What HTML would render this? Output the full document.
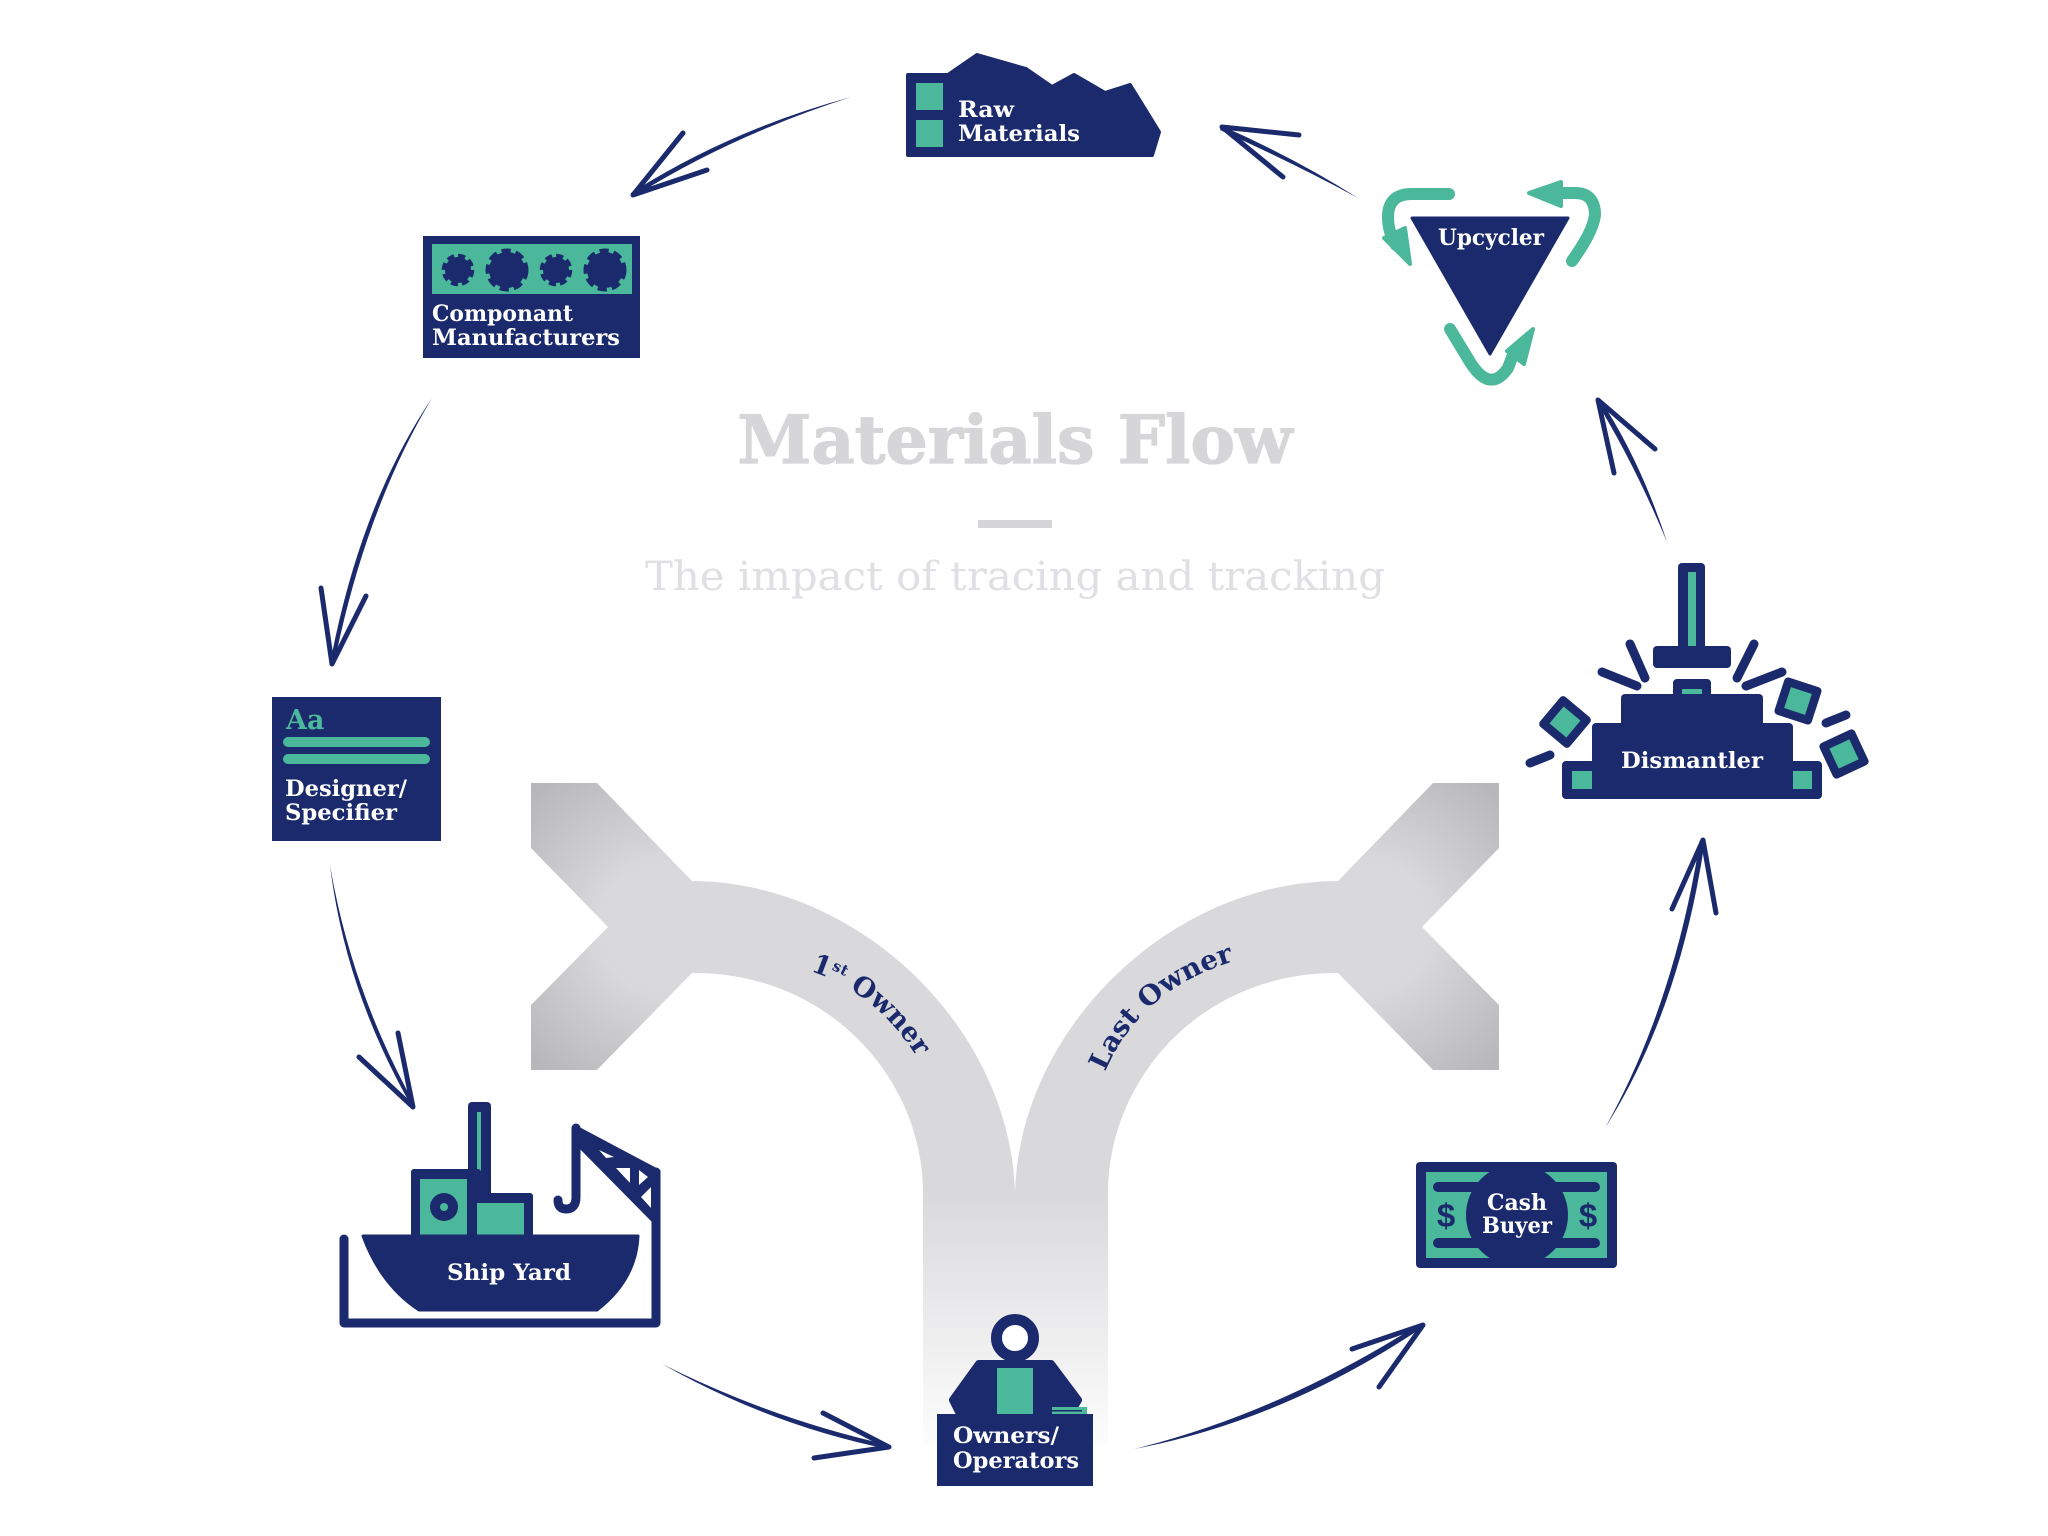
<!DOCTYPE html>
<html><head><meta charset="utf-8"><title>Materials Flow</title>
<style>
html,body{margin:0;padding:0;background:#fff;width:2048px;height:1536px;overflow:hidden}
svg{display:block}
.l{font-family:"DejaVu Serif","Liberation Serif",serif;font-weight:700;fill:#fff}
.a{fill:#1a2a6c}
.w{stroke:#1a2a6c;stroke-width:5;stroke-linecap:round;stroke-linejoin:round;fill:none}
.g{fill:#4bb79b}
.gs{stroke:#4bb79b;stroke-width:12;fill:none;stroke-linecap:round;stroke-linejoin:round}
.n{fill:#1a2a6c}
.ns{stroke:#1a2a6c;fill:none;stroke-linecap:round;stroke-linejoin:round}
</style></head><body>
<svg xmlns="http://www.w3.org/2000/svg" width="2048" height="1536" viewBox="0 0 2048 1536">
<defs>
<radialGradient id="rl" gradientUnits="userSpaceOnUse" cx="665" cy="927" r="185"><stop offset="0.35" stop-color="#d9d9dc"/><stop offset="1" stop-color="#b8b8ba"/></radialGradient>
<radialGradient id="rr" gradientUnits="userSpaceOnUse" cx="1366" cy="927" r="185"><stop offset="0.35" stop-color="#d9d9dc"/><stop offset="1" stop-color="#b8b8ba"/></radialGradient>
<linearGradient id="st" gradientUnits="userSpaceOnUse" x1="0" y1="1190" x2="0" y2="1445"><stop offset="0" stop-color="#d9d9dc"/><stop offset="1" stop-color="#fdfdfd"/></linearGradient>
<path id="p1" d="M810,971 Q878,993 920,1062"/>
<path id="p2" d="M1105,1072 Q1142,985 1245,958"/>
</defs>
<rect width="2048" height="1536" fill="#fff"/>

<!-- Y shape -->
<path fill="url(#rl)" d="M531,783 H597 L692,881 V973 L597,1070 H531 V1005 L608,927 L531,848 Z"/>
<path fill="url(#rr)" d="M1499,783 H1433 L1338,881 V973 L1433,1070 H1499 V1005 L1422,927 L1499,848 Z"/>
<path fill="#d9d9dc" d="M680,881 H691 C860,881 1012,1030 1015,1195 C1018,1030 1170,881 1339,881 H1350 V973 H1336 C1200,973 1108,1080 1108,1193 H923 C923,1080 830,973 694,973 H680 Z"/>
<rect x="923" y="1190" width="185" height="256" fill="url(#st)"/>

<text class="l" style="fill:#1a2a6c" font-size="27"><textPath href="#p1" textLength="140" lengthAdjust="spacingAndGlyphs">1<tspan font-size="15" dy="-9">st</tspan><tspan dy="9"> Owner</tspan></textPath></text>
<text class="l" style="fill:#1a2a6c" font-size="27"><textPath href="#p2" textLength="176" lengthAdjust="spacingAndGlyphs">Last Owner</textPath></text>

<!-- Title -->
<text x="1015" y="463" text-anchor="middle" font-family="DejaVu Serif,serif" font-weight="700" font-size="66" fill="#d6d6d9" stroke="#d6d6d9" stroke-width="1.2" textLength="555" lengthAdjust="spacingAndGlyphs">Materials Flow</text>
<rect x="978" y="520" width="74" height="8" fill="#d6d6d9"/>
<text x="1015" y="590" text-anchor="middle" font-family="DejaVu Serif,serif" font-size="40" fill="#e0e0e4" textLength="740" lengthAdjust="spacingAndGlyphs">The impact of tracing and tracking</text>

<!-- Raw Materials -->
<path class="n" stroke="#1a2a6c" stroke-width="4" stroke-linejoin="round" d="M908,75 H948 L977,55 L1026,69 L1052,87 L1074,75 L1105,93 L1130,85 L1159,132 L1152,155 H908 Z"/>
<rect class="g" x="916" y="83" width="27" height="27"/><rect class="g" x="916" y="120" width="27" height="27"/>
<text class="l" x="958" y="117" font-size="22" textLength="56" lengthAdjust="spacingAndGlyphs">Raw</text>
<text class="l" x="958" y="141" font-size="22" textLength="122" lengthAdjust="spacingAndGlyphs">Materials</text>

<!-- Upcycler -->
<path class="n" stroke="#1a2a6c" stroke-width="3" stroke-linejoin="round" d="M1412,218 H1568 L1490,354 Z"/>
<text class="l" x="1491" y="245" text-anchor="middle" font-size="22" textLength="106" lengthAdjust="spacingAndGlyphs">Upcycler</text>
<path class="gs" d="M1449,194 H1412 Q1388,194 1388,217 Q1388,232 1396,245"/>
<path class="g" stroke="#4bb79b" stroke-width="4" stroke-linejoin="round" d="M1410,264 L1384,238 L1405,228 Z"/>
<path class="gs" d="M1562,193 H1575 Q1595,193 1595,215 Q1593,232 1572,261"/>
<path class="g" stroke="#4bb79b" stroke-width="4" stroke-linejoin="round" d="M1529,193 L1561,182 L1561,206 Z"/>
<path class="gs" d="M1450,329 L1470,362 Q1490,394 1508,368 L1514,352"/>
<path class="g" stroke="#4bb79b" stroke-width="4" stroke-linejoin="round" d="M1533,329 L1507,351 L1524,364 Z"/>

<!-- Dismantler -->
<rect class="n" x="1678" y="563" width="27" height="90" rx="4"/><rect class="g" x="1688" y="572" width="8" height="74"/>
<rect class="n" x="1653" y="646" width="78" height="22" rx="4"/>
<rect class="n" x="1673" y="679" width="38" height="20" rx="4"/><rect class="g" x="1682" y="689" width="20" height="5"/>
<rect class="n" x="1621" y="694" width="142" height="40" rx="4"/>
<rect class="n" x="1592" y="723" width="201" height="45" rx="4"/>
<rect class="n" x="1562" y="761" width="260" height="38" rx="4"/>
<rect class="g" x="1572" y="771" width="20" height="18"/><rect class="g" x="1793" y="771" width="19" height="18"/>
<text class="l" x="1692" y="768" text-anchor="middle" font-size="22" textLength="142" lengthAdjust="spacingAndGlyphs">Dismantler</text>
<g class="ns" stroke-width="9">
<path d="M1630,644 L1645,678"/><path d="M1602,672 L1637,686"/><path d="M1754,644 L1737,678"/><path d="M1782,672 L1746,686"/><path d="M1846,715 L1826,723"/><path d="M1530,763 L1550,755"/>
</g>
<g transform="translate(1565,722) rotate(40)"><rect class="n" x="-19.5" y="-19.5" width="39" height="39" rx="4"/><rect class="g" x="-11" y="-11" width="22" height="22"/></g>
<g transform="translate(1798,701) rotate(18)"><rect class="n" x="-19.5" y="-19.5" width="39" height="39" rx="4"/><rect class="g" x="-11" y="-11" width="22" height="22"/></g>
<g transform="translate(1844,754) rotate(-25)"><rect class="n" x="-19.5" y="-19.5" width="39" height="39" rx="4"/><rect class="g" x="-11" y="-11" width="22" height="22"/></g>

<!-- Ship Yard -->
<rect class="n" x="468" y="1102" width="23" height="140" rx="4"/><rect class="g" x="477" y="1112" width="4" height="81"/>
<rect class="n" x="411" y="1169" width="70" height="70" rx="3"/><rect class="g" x="420" y="1179" width="47" height="56"/>
<rect class="n" x="470" y="1193" width="63" height="46" rx="3"/><rect class="g" x="477" y="1203" width="47" height="32"/>
<circle cx="444" cy="1207" r="14" class="n"/><circle cx="444" cy="1207" r="4" class="g"/>
<path class="n" stroke="#1a2a6c" stroke-width="3" stroke-linejoin="round" d="M363,1236 H638 Q636,1280 597,1310 H419 Q381,1285 363,1236 Z"/>
<text class="l" x="509" y="1280" text-anchor="middle" font-size="22" textLength="124" lengthAdjust="spacingAndGlyphs">Ship Yard</text>
<path class="ns" stroke-width="9" d="M344,1239 V1323 H656 V1172"/>
<path class="n" stroke="#1a2a6c" stroke-width="3" stroke-linejoin="round" d="M576,1127 L659,1171 V1226 L654,1222 L578,1145 Z"/>
<path fill="#fff" d="M599,1150 L614,1157 L606,1158 Z M616,1168 L630,1168 L630,1183 Z M639,1170 L648,1177 L639,1185 Z M651,1187 L651,1208 L641,1197 Z"/>
<path class="ns" stroke-width="9" d="M576,1128 V1197 Q576,1209 566,1209 Q558,1209 558,1200"/>

<!-- Owners -->
<circle cx="1015" cy="1338" r="18.5" fill="#fff" stroke="#1a2a6c" stroke-width="11"/>
<path class="n" stroke="#1a2a6c" stroke-width="8" stroke-linejoin="round" d="M979,1364 H1051 L1078,1400 L1071,1412 H959 L953,1400 Z"/>
<rect class="g" x="997" y="1368" width="36" height="46"/>
<rect class="g" x="1052" y="1407" width="35" height="7"/><rect class="n" x="1052" y="1410" width="30" height="1.5"/>
<rect class="n" x="937" y="1414" width="156" height="72"/>
<text class="l" x="953" y="1443" font-size="22" textLength="106" lengthAdjust="spacingAndGlyphs">Owners/</text>
<text class="l" x="953" y="1468" font-size="22" textLength="126" lengthAdjust="spacingAndGlyphs">Operators</text>

<!-- Cash Buyer -->
<rect class="n" x="1416" y="1162" width="201" height="106" rx="4"/>
<rect class="g" x="1426" y="1172" width="181" height="86"/>
<rect class="n" x="1433" y="1182" width="167" height="10" rx="5"/><rect class="n" x="1433" y="1238" width="167" height="10" rx="5"/>
<circle cx="1517" cy="1215" r="51" class="n"/>
<text x="1446" y="1227" text-anchor="middle" font-family="Liberation Sans,sans-serif" font-weight="700" font-size="33" fill="#1a2a6c">$</text>
<text x="1588" y="1227" text-anchor="middle" font-family="Liberation Sans,sans-serif" font-weight="700" font-size="33" fill="#1a2a6c">$</text>
<text class="l" x="1517" y="1210" text-anchor="middle" font-size="22" textLength="60" lengthAdjust="spacingAndGlyphs">Cash</text>
<text class="l" x="1517" y="1233" text-anchor="middle" font-size="22" textLength="70" lengthAdjust="spacingAndGlyphs">Buyer</text>

<!-- Component -->
<rect class="n" x="423" y="236" width="217" height="122"/>
<rect class="g" x="432" y="244" width="200" height="50"/>
<g class="n">
<circle cx="458" cy="270" r="13"/><circle cx="458" cy="270" r="14" fill="none" stroke="#1a2a6c" stroke-width="4.5" stroke-dasharray="7 4"/>
<circle cx="507" cy="270" r="18"/><circle cx="507" cy="270" r="19" fill="none" stroke="#1a2a6c" stroke-width="5" stroke-dasharray="9 5"/>
<circle cx="556" cy="270" r="13"/><circle cx="556" cy="270" r="14" fill="none" stroke="#1a2a6c" stroke-width="4.5" stroke-dasharray="7 4"/>
<circle cx="605" cy="270" r="18"/><circle cx="605" cy="270" r="19" fill="none" stroke="#1a2a6c" stroke-width="5" stroke-dasharray="9 5"/>
</g>
<text class="l" x="432" y="321" font-size="22" textLength="141" lengthAdjust="spacingAndGlyphs">Componant</text>
<text class="l" x="432" y="345" font-size="22" textLength="188" lengthAdjust="spacingAndGlyphs">Manufacturers</text>

<!-- Designer -->
<rect class="n" x="272" y="697" width="169" height="144"/>
<rect class="g" x="283" y="737" width="147" height="10" rx="5"/><rect class="g" x="283" y="754" width="147" height="10" rx="5"/>
<text x="286" y="729" font-family="DejaVu Serif,serif" font-weight="700" font-size="27" fill="#4bb79b">Aa</text>
<text class="l" x="285" y="796" font-size="22" textLength="122" lengthAdjust="spacingAndGlyphs">Designer/</text>
<text class="l" x="285" y="820" font-size="22" textLength="112" lengthAdjust="spacingAndGlyphs">Specifier</text>

<!-- Arrows -->
<path class="a" d="M1358,198 Q1295,158 1222,126 L1220,130 Q1295,164 1358,198 Z"/><path class="w" d="M1299,135 L1222,127 L1283,177"/>
<path class="a" d="M851,97 Q730,130 631,193 L633,197 Q730,136 851,97 Z"/><path class="w" d="M683,133 L633,195 L707,170"/>
<path class="a" d="M432,398 Q360,505 330,664 L334,665 Q365,510 432,398 Z"/><path class="w" d="M321,588 L332,664 L366,596"/>
<path class="a" d="M330,865 Q345,990 412,1107 L415,1105 Q351,990 330,865 Z"/><path class="w" d="M359,1057 L413,1107 L398,1033"/>
<path class="a" d="M662,1364 Q770,1425 888,1449 L889,1445 Q772,1419 662,1364 Z"/><path class="w" d="M823,1413 L889,1447 L814,1458"/>
<path class="a" d="M1134,1449 Q1285,1420 1423,1327 L1421,1323 Q1280,1413 1134,1449 Z"/><path class="w" d="M1352,1349 L1423,1325 L1379,1387"/>
<path class="a" d="M1605,1128 Q1680,1010 1705,840 L1700,840 Q1674,1005 1605,1128 Z"/><path class="w" d="M1672,909 L1703,840 L1716,913"/>
<path class="a" d="M1667,542 Q1640,460 1600,399 L1596,401 Q1635,465 1667,542 Z"/><path class="w" d="M1614,473 L1598,400 L1655,449"/>
</svg>
</body></html>
